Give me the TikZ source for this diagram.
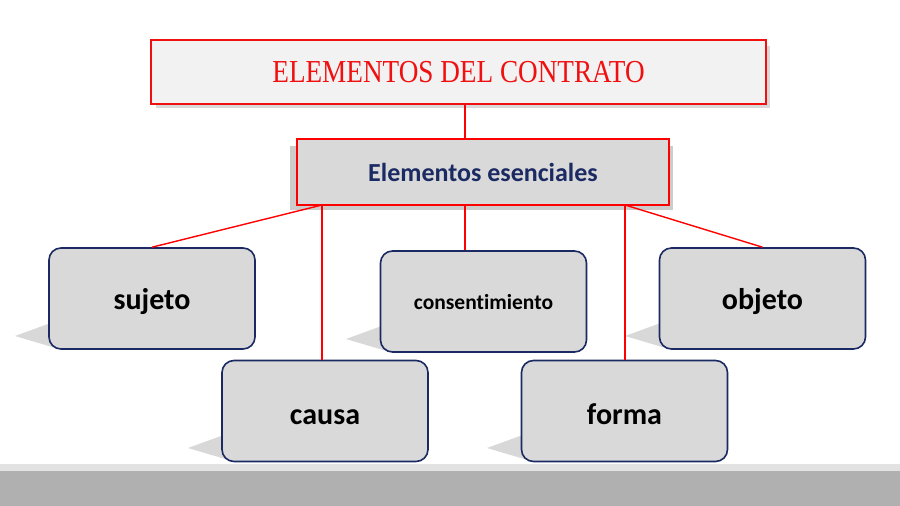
\documentclass[tikz,border=0pt]{standalone}
\usepackage{fontspec}
\setmainfont{Carlito}[Ligatures=NoCommon]
\newfontfamily\titlefont{Liberation Serif}
\definecolor{navy}{HTML}{1B2A62}
\definecolor{boxgray}{HTML}{D9D9D9}
\definecolor{titlegray}{HTML}{F2F2F2}
\definecolor{band}{HTML}{B0B0B0}
\definecolor{bandlight}{HTML}{E2E2E2}
\definecolor{titlered}{HTML}{F01010}
\begin{document}
\begin{tikzpicture}[x=1pt,y=-1pt,
  itembox/.style={draw=navy,line width=1.6pt,fill=boxgray,rounded corners=12pt,
     minimum width=206pt,minimum height=101pt},
  itemtext/.style={anchor=base,inner sep=0pt,font=\bfseries\fontsize{30}{34}\selectfont,text=black},
  link/.style={draw=red,line width=1.4pt},
  shade/.style={fill=black!25,opacity=0.6}]
\useasboundingbox (0,0) rectangle (900,506);
\fill[white] (0,0) rectangle (900,506);
% bottom band
\fill[bandlight] (0,464) rectangle (900,471);
\fill[band] (0,471) rectangle (900,506);
% shadows
\foreach \x/\y in {49/248,380/251,659/248,222/360,521/360}{
  \fill[shade] (\x+10,\y+72) -- (\x-34,\y+88) -- (\x+10,\y+101) -- cycle;
}
\fill[black!15] (156,46) rectangle (770,108);
\fill[black!20] (290,146) rectangle (673,210);
% title
\node[draw=titlered,line width=1.2pt,fill=titlegray,minimum width=615pt,minimum height=64pt,
  text=titlered,font=\titlefont\fontsize{32}{36}\selectfont] (title) at (458.5,72) {\scalebox{0.85}[1]{ELEMENTOS DEL CONTRATO}};
\node[draw=red,line width=1.4pt,fill=boxgray,minimum width=372pt,minimum height=66pt,
  text=navy,font=\bfseries\fontsize{26}{30}\selectfont] (sub) at (483,172) {Elementos esenciales};
\node[itembox] (sujeto) at (152,298.5) {};
\node[itembox] (cons) at (483.5,301.5) {};
\node[itembox] (objeto) at (762.5,298.5) {};
\node[itembox] (causa) at (325,411) {};
\node[itembox] (forma) at (624.5,411) {};
\node[itemtext] (tsujeto) at ([yshift=-10.5pt]sujeto.center) {sujeto};
\node[itemtext,font=\bfseries\fontsize{21.5}{26}\selectfont] (tcons) at ([yshift=-7.5pt]cons.center) {consentimiento};
\node[itemtext] (tobjeto) at ([yshift=-10.5pt]objeto.center) {objeto};
\node[itemtext] (tcausa) at ([yshift=-13pt]causa.center) {causa};
\node[itemtext] (tforma) at ([yshift=-13pt]forma.center) {forma};
% connectors
\coordinate (s1) at (322,205);
\coordinate (s2) at (465,205);
\coordinate (s3) at (625,205);
\draw[link] (title.south -| s2) -- (sub.north -| s2);
\draw[link] (s1) -- (sujeto.north);
\draw[link] (s1) -- (causa.north -| s1);
\draw[link] (s2) -- (cons.north -| s2);
\draw[link] (s3) -- (forma.north -| s3);
\draw[link] (s3) -- (objeto.north);
\end{tikzpicture}
\end{document}
